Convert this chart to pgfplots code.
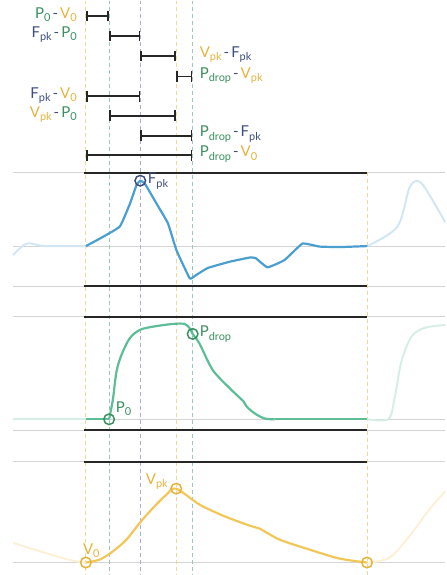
\documentclass[border=0pt]{standalone}
\usepackage{pgfplots}
\pgfplotsset{compat=1.18}
\usepackage{fontspec}
\setmainfont{Lato}
\definecolor{cV}{HTML}{E6B23A}
\definecolor{cP}{HTML}{3A8F5E}
\definecolor{cF}{HTML}{3E4D7E}
\definecolor{lV}{HTML}{F2C75A}
\definecolor{lP}{HTML}{5CBD97}
\definecolor{lF}{HTML}{4A9ED0}
\definecolor{dV}{HTML}{F3D79A}
\definecolor{dP}{HTML}{9CC8B5}
\definecolor{dF}{HTML}{A8AECB}
\definecolor{gl}{HTML}{D4D4D4}
\newcommand\lbsz{\fontsize{15}{17}\selectfont}
\newcommand\sub[1]{\raisebox{-0.45ex}{\fontsize{11}{11}\selectfont #1}}
\newcommand\V[1]{\textcolor{cV}{V\sub{#1}}}
\newcommand\Pp[1]{\textcolor{cP}{P\sub{#1}}}
\newcommand\F[1]{\textcolor{cF}{F\sub{#1}}}
\newcommand\dash{\textcolor{cF}{\hspace{2pt}-\hspace{2pt}}}
\begin{document}
\begin{tikzpicture}
\begin{axis}[width=446pt,height=575pt,scale only axis,
  xmin=0,xmax=446,ymin=0,ymax=575,y dir=reverse,hide axis,clip=false]
\addplot[draw=none] coordinates {(0,0) (446,575)};
% gray guide lines
\addplot[gl,line width=1pt] coordinates {(13,172.3) (446,172.3)};
\addplot[gl,line width=1pt] coordinates {(13,246) (446,246)};
\addplot[gl,line width=1pt] coordinates {(13,286) (446,286)};
\addplot[gl,line width=1pt] coordinates {(13,316.7) (446,316.7)};
\addplot[gl,line width=1pt] coordinates {(13,419.5) (446,419.5)};
\addplot[gl,line width=1pt] coordinates {(13,430.7) (446,430.7)};
\addplot[gl,line width=1pt] coordinates {(13,462) (446,462)};
\addplot[gl,line width=1pt] coordinates {(13,563) (446,563)};
% dashed verticals
\addplot[dV,line width=1pt,dash pattern=on 4pt off 3pt] coordinates {(86,0) (86,575)};
\addplot[dP,line width=1pt,dash pattern=on 4pt off 3pt] coordinates {(109.3,0) (109.3,575)};
\addplot[dF,line width=1pt,dash pattern=on 4pt off 3pt] coordinates {(140.5,0) (140.5,575)};
\addplot[dV,line width=1pt,dash pattern=on 4pt off 3pt] coordinates {(176.5,0) (176.5,575)};
\addplot[dP,line width=1pt,dash pattern=on 4pt off 3pt] coordinates {(192.8,0) (192.8,575)};
\addplot[dV,line width=1pt,dash pattern=on 4pt off 3pt] coordinates {(367.7,172) (367.7,575)};
% black panel lines
\addplot[black!85,line width=2pt] coordinates {(84,172.3) (368,172.3)};
\addplot[black!85,line width=2pt] coordinates {(84,286) (368,286)};
\addplot[black!85,line width=2pt] coordinates {(84,316.7) (368,316.7)};
\addplot[black!85,line width=2pt] coordinates {(84,430.7) (368,430.7)};
\addplot[black!85,line width=2pt] coordinates {(84,462) (368,462)};
% interval bars
\addplot[black!85,line width=1.7pt,|-|] coordinates {(86,15.5) (109.3,15.5)};
\addplot[black!85,line width=1.7pt,|-|] coordinates {(109.3,35.5) (140.5,35.5)};
\addplot[black!85,line width=1.7pt,|-|] coordinates {(140.5,55.5) (176.5,55.5)};
\addplot[black!85,line width=1.7pt,|-|] coordinates {(176.5,76) (192.8,76)};
\addplot[black!85,line width=1.7pt,|-|] coordinates {(86,96) (140.5,96)};
\addplot[black!85,line width=1.7pt,|-|] coordinates {(109.3,115.5) (176.5,115.5)};
\addplot[black!85,line width=1.7pt,|-|] coordinates {(140.5,135.5) (192.8,135.5)};
\addplot[black!85,line width=1.7pt,|-|] coordinates {(86,155) (192.8,155)};
\node[anchor=east,inner sep=1pt] at (axis cs:78,14) {\lbsz\Pp{0}\dash\V{0}};
\node[anchor=east,inner sep=1pt] at (axis cs:78,34) {\lbsz\F{pk}\dash\Pp{0}};
\node[anchor=west,inner sep=1pt] at (axis cs:199,54) {\lbsz\V{pk}\dash\F{pk}};
\node[anchor=west,inner sep=1pt] at (axis cs:199,75) {\lbsz\Pp{drop}\dash\V{pk}};
\node[anchor=east,inner sep=1pt] at (axis cs:78,95) {\lbsz\F{pk}\dash\V{0}};
\node[anchor=east,inner sep=1pt] at (axis cs:78,114) {\lbsz\V{pk}\dash\Pp{0}};
\node[anchor=west,inner sep=1pt] at (axis cs:199,134) {\lbsz\Pp{drop}\dash\F{pk}};
\node[anchor=west,inner sep=1pt] at (axis cs:199,154) {\lbsz\Pp{drop}\dash\V{0}};
% blue force curve
\addplot[lF!25,line width=2pt,smooth,tension=0.5] coordinates {(13,255) (27,243.5) (45,246) (86,246)};
\addplot[lF!25,line width=2pt,smooth,tension=0.5] coordinates {(368,246) (398,226.7) (410,188) (418,180.7) (426,188) (446,222)};
\addplot[lF,line width=2.2pt,smooth,tension=0.2] coordinates {
(86,246) (100,238.5) (120,226.5) (130,204) (136.7,185) (140.5,180.5) (145,183.3) (156.7,203.3) (168.3,223.3) (176.7,250) (190,278.3) (195,276) (208,268) (230,261.7) (250,257.5) (256,258) (268,267.3) (285,260) (303,243.5) (320,246.5) (340,247) (368,246)};
% green pressure curve
\addplot[lP!25,line width=2pt] coordinates {(13,419.5) (86,419.5)};
\addplot[lP!25,line width=2pt,smooth,tension=0.5] coordinates {(368,419.5) (389,419.5) (395,400) (402,362) (412,337) (425,328) (446,325)};
\addplot[lP,line width=2.2pt] coordinates {(86,419.5) (109.3,419.5)};
\addplot[lP,line width=2.2pt,smooth,tension=0.5] coordinates {
(109.3,419.5) (111,411) (113.3,398.3) (116.7,371.7) (121.7,355) (130,338.3) (140,330) (153.3,326.7) (173.3,324) (185,324) (190,328.3) (193,334) (200,344) (213,370) (230,388.3) (244,401.7) (247,406.7) (255,413.5) (265,418.7) (275,419.5)};
\addplot[lP,line width=2.2pt] coordinates {(275,419.5) (368,419.5)};
% yellow volume curve
\addplot[lV!25,line width=2pt,smooth,tension=0.5] coordinates {(13,543.3) (40,551.7) (70,560.5) (86,563)};
\addplot[lV!25,line width=2pt,smooth,tension=0.5] coordinates {(368,563) (390,558.3) (410,536.7) (430,510) (446,491.7)};
\addplot[lV,line width=2.2pt,smooth,tension=0.5] coordinates {
(86,563) (100,560) (113.3,551.7) (126.7,540) (140,523.3) (153.3,508.3) (166.7,495) (176.5,489) (200,505) (225,516.7) (250,526) (260,529) (280,540) (310,550) (340,559) (368,563)};
% circles
\addplot[cF,only marks,mark=o,mark size=5.3pt,line width=1.5pt] coordinates {(140.5,180.5)};
\addplot[cP,only marks,mark=o,mark size=5.3pt,line width=1.5pt] coordinates {(109.3,419.5) (193,334)};
\addplot[cV,only marks,mark=o,mark size=5.3pt,line width=1.5pt] coordinates {(86,563) (176.5,489) (367.7,563)};
\node[anchor=west,text=cF,inner sep=1pt] at (axis cs:147,181) {\lbsz F\sub{pk}};
\node[anchor=west,text=cP,inner sep=1pt] at (axis cs:199,334) {\lbsz P\sub{drop}};
\node[anchor=west,text=cP,inner sep=1pt] at (axis cs:115,409) {\lbsz P\sub{0}};
\node[anchor=west,text=cV,inner sep=1pt] at (axis cs:82,551) {\lbsz V\sub{0}};
\node[anchor=west,text=cV,inner sep=1pt] at (axis cs:145,482) {\lbsz V\sub{pk}};
\end{axis}
\end{tikzpicture}
\end{document}
